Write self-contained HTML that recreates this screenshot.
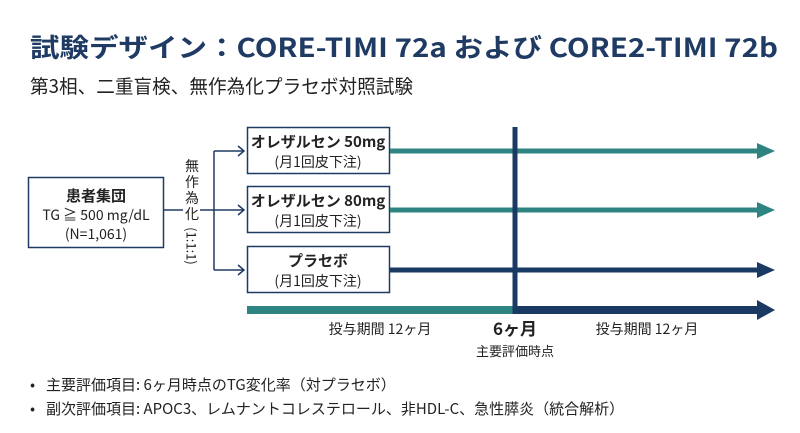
<!DOCTYPE html>
<html><head><meta charset="utf-8"><style>
html,body{margin:0;padding:0;background:#fff;}
svg{display:block;font-family:"Noto Sans CJK JP","Liberation Sans",sans-serif;}
</style></head><body>
<svg width="800" height="433" viewBox="0 0 800 433" xmlns="http://www.w3.org/2000/svg">
<text x="30" y="57" font-size="26" font-weight="bold" fill="#1f3b63" textLength="748" lengthAdjust="spacingAndGlyphs">試験デザイン：CORE-TIMI 72a および CORE2-TIMI 72b</text>
<text x="30" y="93" font-size="19" fill="#222" textLength="383" lengthAdjust="spacingAndGlyphs">第3相、二重盲検、無作為化プラセボ対照試験</text>

<rect x="28.5" y="177.5" width="135" height="70" fill="#fff" stroke="#1f3b63" stroke-width="1.5"/>
<text x="96" y="201" font-size="15" font-weight="bold" text-anchor="middle" fill="#222">患者集団</text>
<text x="96" y="220" font-size="14" text-anchor="middle" fill="#222">TG ≧ 500 mg/dL</text>
<text x="96" y="239" font-size="14" text-anchor="middle" fill="#222">(N=1,061)</text>

<g stroke="#1f3b63" stroke-width="1.5" fill="none">
<line x1="164" y1="210" x2="183" y2="210"/>
<line x1="200" y1="210" x2="214" y2="210"/>
<line x1="214" y1="151" x2="214" y2="270"/>
<line x1="214" y1="151" x2="244" y2="151"/>
<line x1="214" y1="210" x2="244" y2="210"/>
<line x1="214" y1="270" x2="244" y2="270"/>
<polyline points="238,146 244,151 238,156"/>
<polyline points="238,205 244,210 238,215"/>
<polyline points="238,265 244,270 238,275"/>
</g>
<g font-size="14" fill="#222" text-anchor="middle">
<text x="192" y="171">無</text>
<text x="192" y="187">作</text>
<text x="192" y="203">為</text>
<text x="192" y="219">化</text>
<text x="192" y="246" dominant-baseline="central" transform="rotate(90 192 246)" font-size="13">(1:1:1)</text>
</g>

<g stroke="#1f3b63" stroke-width="1.5" fill="#fff">
<rect x="247.5" y="127.5" width="142" height="46"/>
<rect x="247.5" y="186.5" width="142" height="46"/>
<rect x="247.5" y="246.5" width="142" height="46"/>
</g>
<g text-anchor="middle" fill="#222">
<text x="318" y="147" font-size="15" font-weight="bold">オレザルセン 50mg</text>
<text x="318" y="167" font-size="14">(月1回皮下注)</text>
<text x="318" y="206" font-size="15" font-weight="bold">オレザルセン 80mg</text>
<text x="318" y="226" font-size="14">(月1回皮下注)</text>
<text x="318" y="266" font-size="15" font-weight="bold">プラセボ</text>
<text x="318" y="286" font-size="14">(月1回皮下注)</text>
</g>

<rect x="390" y="148.5" width="368" height="5" fill="#2e8480"/>
<polygon points="757,143 775,151 757,159" fill="#2e8480"/>
<rect x="390" y="207.5" width="368" height="5" fill="#2e8480"/>
<polygon points="757,202 775,210 757,218" fill="#2e8480"/>
<rect x="390" y="267.5" width="368" height="5" fill="#1a3a64"/>
<polygon points="757,262 775,270 757,278" fill="#1a3a64"/>
<rect x="247" y="306" width="268" height="8" fill="#2e8480"/>
<rect x="513" y="306" width="245" height="8" fill="#1a3a64"/>
<polygon points="757,300 775,310 757,320" fill="#1a3a64"/>
<rect x="512.5" y="127" width="5" height="187" fill="#1a3a64"/>

<text x="380" y="334" font-size="14" text-anchor="middle" fill="#222">投与期間 12ヶ月</text>
<text x="515" y="335" font-size="17" font-weight="bold" text-anchor="middle" fill="#222">6ヶ月</text>
<text x="515" y="356" font-size="13" text-anchor="middle" fill="#222">主要評価時点</text>
<text x="647" y="334" font-size="14" text-anchor="middle" fill="#222">投与期間 12ヶ月</text>

<text x="30" y="390" font-size="15" fill="#222">•</text>
<text x="46" y="390" font-size="15" fill="#222">主要評価項目: 6ヶ月時点のTG変化率（対プラセボ）</text>
<text x="30" y="414" font-size="15" fill="#222">•</text>
<text x="46" y="414" font-size="15" fill="#222">副次評価項目: APOC3、レムナントコレステロール、非HDL-C、急性膵炎（統合解析）</text>
</svg>
</body></html>
